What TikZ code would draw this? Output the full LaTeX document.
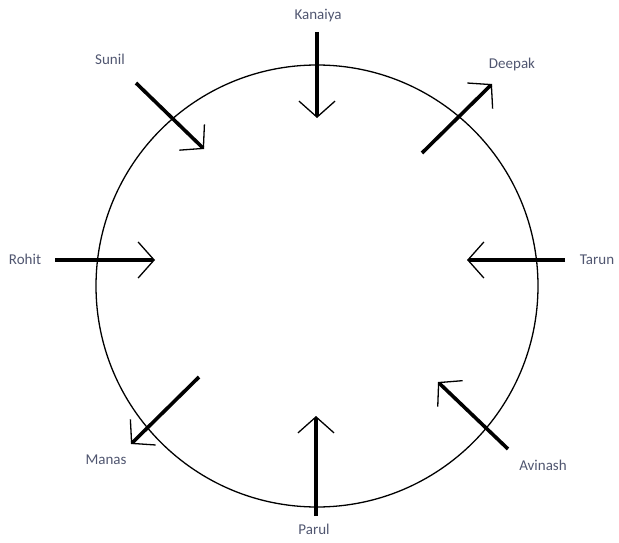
\documentclass[tikz,border=0pt]{standalone}
\usepackage{fontspec}
\setmainfont{Carlito}
\usepackage{tikz}
\usetikzlibrary{arrows.meta,calc,positioning}
\definecolor{labelcol}{RGB}{80,86,112}

\begin{document}
\begin{tikzpicture}[x=1pt,y=-1pt,
  person/.style={text=labelcol,font=\fontsize{15}{18}\selectfont,inner sep=0pt},
  push/.style={line width=3.6pt,-{Straight Barb[length=16pt,width=36pt,line width=1.3pt]}}]
  \useasboundingbox (0,0) rectangle (619,543);
  \coordinate (O) at (317,286);
  \draw[line width=1.3pt] (O) circle (221);
  % start and tip of each arrow
  \coordinate (K1) at (317,32);  \coordinate (K2) at (317,118);
  \coordinate (S1) at (136,83);  \coordinate (S2) at (204,149);
  \coordinate (D1) at (422,153); \coordinate (D2) at (492,84);
  \coordinate (R1) at (55,260);  \coordinate (R2) at (155,260);
  \coordinate (T1) at (565,260); \coordinate (T2) at (467,260);
  \coordinate (M1) at (199,377); \coordinate (M2) at (131,444);
  \coordinate (A1) at (508,449); \coordinate (A2) at (438,382);
  \coordinate (P1) at (316,516); \coordinate (P2) at (316,416);
  \draw[push] (K1) -- (K2);
  \draw[push] (S1) -- (S2);
  \draw[push] (D1) -- (D2);
  \draw[push] (R1) -- (R2);
  \draw[push] (T1) -- (T2);
  \draw[push] (M1) -- (M2);
  \draw[push] (A1) -- (A2);
  \draw[push] (P1) -- (P2);
  % names
  \node[person] (kanaiya) at (318,16) {Kanaiya};
  \node[person] (sunil) at (110,59) {Sunil};
  \node[person] (deepak) at (512,65) {Deepak};
  \node[person] (rohit) at (25,259) {Rohit};
  \node[person] (tarun) at (597,260) {Tarun};
  \node[person] (manas) at (106,460) {Manas};
  \node[person] (avinash) at (543,465) {Avinash};
  \node[person] (parul) at (314,529) {Parul};
\end{tikzpicture}
\end{document}
